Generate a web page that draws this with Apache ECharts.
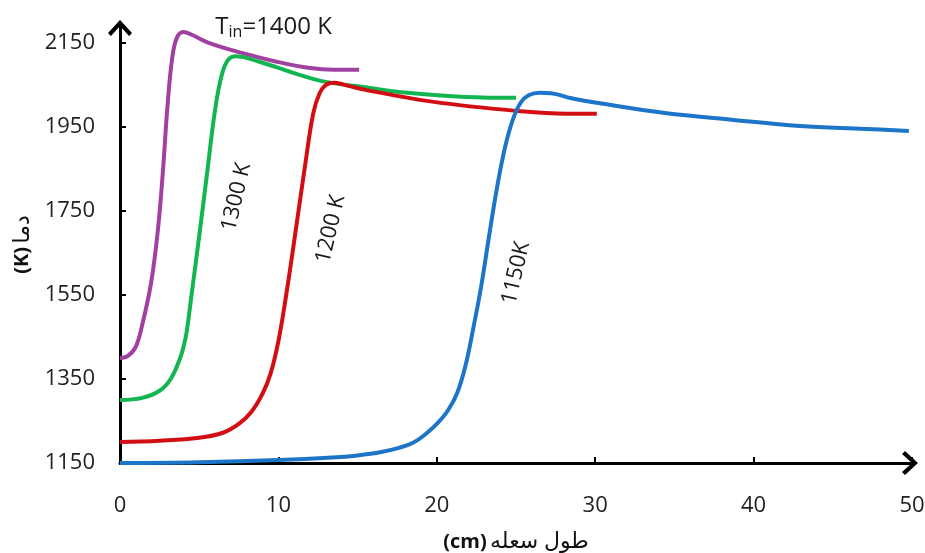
<!DOCTYPE html>
<html>
<head>
<meta charset="utf-8">
<script src="https://cdn.jsdelivr.net/npm/echarts@6/dist/echarts.min.js"></script>
<style>
  html, body { margin: 0; padding: 0; background: #fff; }
  #main { width: 925px; height: 553px; }
</style>
</head>
<body>
<div id="main"></div>
<script>
// flame length (cm) and temperature (K)
var x1400 = [0, 0.5, 1.0, 1.43, 1.96, 2.38, 2.7, 3.0, 3.3, 3.6, 4.0, 4.6, 5.6, 7.7, 9.9, 12, 13.5, 15.1];
var t1400 = [1400, 1405, 1427, 1483, 1578, 1700, 1840, 2000, 2115, 2163, 2176, 2168, 2150, 2126, 2105, 2090, 2086, 2086];

var x1300 = [0, 1.4, 2.5, 3.2, 3.8, 4.0, 4.2, 4.55, 5.0, 5.45, 6.0, 6.4, 6.8, 7.3, 8.8, 10.9, 13, 15.7, 17.6, 21.8, 25];
var t1300 = [1300, 1305, 1322, 1350, 1400, 1425, 1460, 1560, 1690, 1825, 1990, 2070, 2108, 2118, 2105, 2079, 2057, 2043, 2033, 2021, 2019];

var x1200 = [0, 2.5, 5.0, 6.5, 7.5, 8.3, 9.0, 9.5, 10.0, 10.5, 11.1, 11.7, 12.2, 12.6, 13.0, 13.5, 14.5, 15.5, 19.7, 25, 28.2, 30.1];
var t1200 = [1200, 1203, 1210, 1222, 1243, 1272, 1315, 1362, 1440, 1552, 1705, 1862, 1982, 2030, 2050, 2055, 2047, 2038, 2010, 1988, 1981, 1981];

var x1150 = [0, 5, 10, 13.4, 15, 16.5, 17.6, 18.5, 19.3, 20.0, 20.7, 21.3, 21.8, 22.3, 22.8, 23.3, 23.8, 24.3, 24.8, 25.3, 25.8, 26.5, 27.2, 28.5, 30.3, 34.4, 38.6, 42.9, 47.1, 49.8];
var t1150 = [1150, 1152, 1157, 1163, 1168, 1176, 1186, 1198, 1219, 1243, 1275, 1318, 1380, 1470, 1570, 1690, 1805, 1900, 1967, 2008, 2025, 2031, 2030, 2018, 2006, 1983, 1967, 1952, 1945, 1940];

var yTicks = [1150, 1350, 1550, 1750, 1950, 2150];

var font = "'Open Sans', 'DejaVu Sans', sans-serif";
var arrow = 'path://M12,0 L24,13 L21,16 L12,6 L3,16 L0,13 Z';

function pairs(xs, ts) {
  return xs.map(function (x, i) { return [x, ts[i]]; });
}

function curve(name, xs, ts, color) {
  return {
    name: name,
    type: 'line',
    data: pairs(xs, ts),
    smooth: 0.4,
    symbol: 'none',
    clip: false,
    lineStyle: { color: color, width: 4 }
  };
}

var myChart = echarts.init(document.getElementById('main'));

var axisLine = {
  show: true,
  onZero: false,
  lineStyle: { color: '#000', width: 3 },
  symbol: ['none', arrow],
  symbolSize: [24, 16],
  symbolOffset: [0, -2]
};

var option = {
  animation: false,
  backgroundColor: '#fff',
  grid: { left: 120, right: 13, top: 26, bottom: 90, outerBoundsMode: 'none' },
  xAxis: {
    type: 'value',
    min: 0,
    max: 50,
    interval: 10,
    axisLine: axisLine,
    axisTick: { show: true, inside: true, length: 6, lineStyle: { color: '#000', width: 2 } },
    axisLabel: { margin: 32, fontSize: 22, color: '#222', fontFamily: font },
    splitLine: { show: false },
    name: '{b|(cm)} {r|طول سعله}',
    nameLocation: 'middle',
    nameGap: 68,
    nameTextStyle: {
      rich: {
        b: { fontSize: 20, fontWeight: 'bold', color: '#111', fontFamily: font },
        r: { fontSize: 22, color: '#111', fontFamily: font }
      }
    }
  },
  yAxis: {
    type: 'value',
    min: 1150,
    max: 2190,
    axisLine: axisLine,
    axisTick: { show: true, inside: true, length: 6, customValues: yTicks, lineStyle: { color: '#000', width: 2 } },
    axisLabel: {
      margin: 25, fontSize: 22, color: '#222', fontFamily: font, customValues: yTicks,
      formatter: function (v) { return String(v); }
    },
    splitLine: { show: false },
    name: '{b|(K)} {r|دما}',
    nameLocation: 'middle',
    nameGap: 73,
    nameTextStyle: {
      rich: {
        b: { fontSize: 20, fontWeight: 'bold', color: '#111', fontFamily: font },
        r: { fontSize: 22, color: '#111', fontFamily: font }
      }
    }
  },
  series: [
    curve('1400 K', x1400, t1400, '#A040A0'),
    curve('1300 K', x1300, t1300, '#12B550'),
    curve('1200 K', x1200, t1200, '#D20E14'),
    curve('1150 K', x1150, t1150, '#1C75C8')
  ]
};
myChart.setOption(option);

// curve labels, anchored in data coordinates
var tilt = 77 * Math.PI / 180;
var ink = '#1a1a1a';
var notes = [
  { text: '1300 K', at: [7.35, 1783] },
  { text: '1200 K', at: [13.3, 1707] },
  { text: '1150K', at: [25.0, 1602] }
];

var graphics = notes.map(function (n) {
  var p = myChart.convertToPixel({ gridIndex: 0 }, n.at);
  return {
    type: 'text', x: p[0], y: p[1], rotation: tilt, z: 10,
    style: { text: n.text, fontSize: 22, fontFamily: font, fill: ink, align: 'center', verticalAlign: 'middle' }
  };
});

// T_in=1400 K with a real subscript
var ctx = document.createElement('canvas').getContext('2d');
function textWidth(s, size) {
  ctx.font = size + 'px ' + font;
  return ctx.measureText(s).width;
}
var parts = [['T', 24, 0], ['in', 16, 6], ['=1400 K', 24, 0]];
var total = parts.reduce(function (w, q) { return w + textWidth(q[0], q[1]); }, 0);
var tp = myChart.convertToPixel({ gridIndex: 0 }, [9.7, 2188]);
var cx = tp[0] - total / 2;
parts.forEach(function (q) {
  graphics.push({
    type: 'text', x: cx, y: tp[1] + q[2], z: 10,
    style: { text: q[0], fontSize: q[1], fontFamily: font, fill: ink, align: 'left', verticalAlign: 'middle' }
  });
  cx += textWidth(q[0], q[1]);
});

myChart.setOption({ graphic: graphics });
</script>
</body>
</html>
